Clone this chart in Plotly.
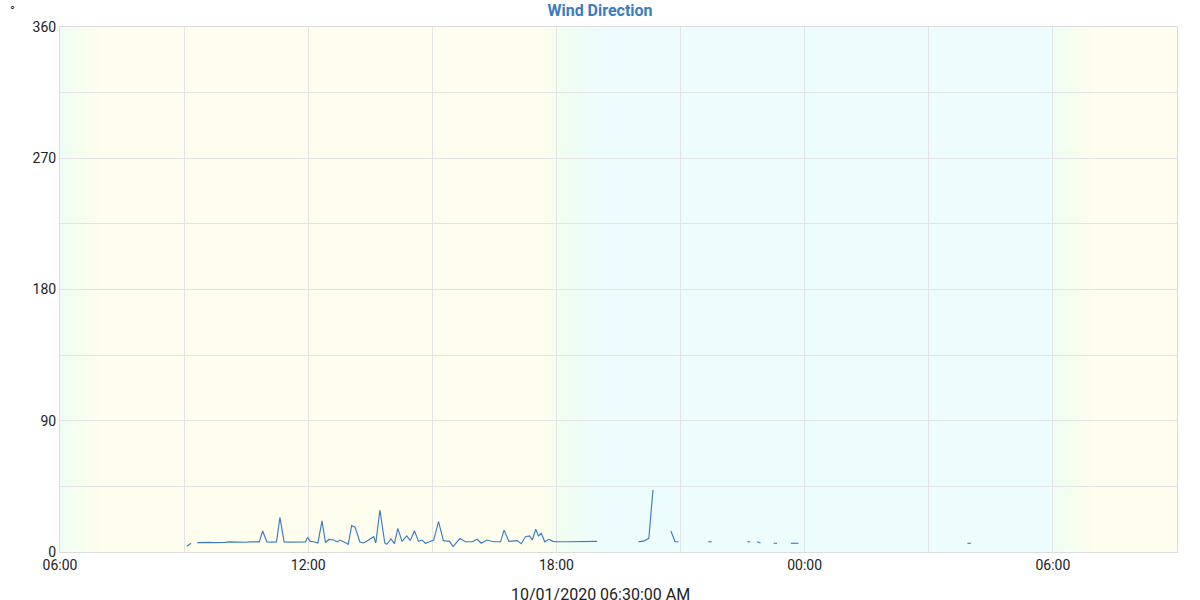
import plotly.graph_objects as go
import pandas as pd

# ---- data ----
times = [
    "2020-10-01 09:04", "2020-10-01 09:10", "2020-10-01 09:14",
    "2020-10-01 09:19", "2020-10-01 09:25", "2020-10-01 09:30", "2020-10-01 09:36",
    "2020-10-01 09:42", "2020-10-01 09:48", "2020-10-01 09:53", "2020-10-01 09:59",
    "2020-10-01 10:05", "2020-10-01 10:11", "2020-10-01 10:17", "2020-10-01 10:23",
    "2020-10-01 10:29", "2020-10-01 10:35", "2020-10-01 10:42", "2020-10-01 10:49",
    "2020-10-01 10:54", "2020-10-01 11:00", "2020-10-01 11:07", "2020-10-01 11:14",
    "2020-10-01 11:19", "2020-10-01 11:25", "2020-10-01 11:31", "2020-10-01 11:38",
    "2020-10-01 11:44", "2020-10-01 11:50", "2020-10-01 11:56", "2020-10-01 11:59",
    "2020-10-01 12:03", "2020-10-01 12:08", "2020-10-01 12:14", "2020-10-01 12:20",
    "2020-10-01 12:25", "2020-10-01 12:30", "2020-10-01 12:37", "2020-10-01 12:42",
    "2020-10-01 12:46", "2020-10-01 12:54", "2020-10-01 12:58", "2020-10-01 13:03",
    "2020-10-01 13:08", "2020-10-01 13:15", "2020-10-01 13:20", "2020-10-01 13:27",
    "2020-10-01 13:35", "2020-10-01 13:38", "2020-10-01 13:44", "2020-10-01 13:51",
    "2020-10-01 13:54", "2020-10-01 14:00", "2020-10-01 14:05", "2020-10-01 14:10",
    "2020-10-01 14:16", "2020-10-01 14:23", "2020-10-01 14:28", "2020-10-01 14:34",
    "2020-10-01 14:40", "2020-10-01 14:45", "2020-10-01 14:50", "2020-10-01 14:56",
    "2020-10-01 15:02", "2020-10-01 15:09", "2020-10-01 15:16", "2020-10-01 15:25",
    "2020-10-01 15:30", "2020-10-01 15:40", "2020-10-01 15:48", "2020-10-01 15:58",
    "2020-10-01 16:05", "2020-10-01 16:11", "2020-10-01 16:19", "2020-10-01 16:29",
    "2020-10-01 16:39", "2020-10-01 16:44", "2020-10-01 16:51", "2020-10-01 17:03",
    "2020-10-01 17:09", "2020-10-01 17:15", "2020-10-01 17:21", "2020-10-01 17:25",
    "2020-10-01 17:30", "2020-10-01 17:34", "2020-10-01 17:38", "2020-10-01 17:43",
    "2020-10-01 17:49", "2020-10-01 17:55", "2020-10-01 18:01", "2020-10-01 18:15",
    "2020-10-01 18:30", "2020-10-01 18:45", "2020-10-01 18:59", "2020-10-01 19:05",
    "2020-10-01 19:59", "2020-10-01 20:07", "2020-10-01 20:14", "2020-10-01 20:20",
    "2020-10-01 20:30",
    "2020-10-01 20:46", "2020-10-01 20:52", "2020-10-01 20:57", "2020-10-01 21:05",
    "2020-10-01 21:40", "2020-10-01 21:45", "2020-10-01 21:50",
    "2020-10-01 22:37", "2020-10-01 22:41", "2020-10-01 22:45",
    "2020-10-01 22:51", "2020-10-01 22:56", "2020-10-01 23:00",
    "2020-10-01 23:15", "2020-10-01 23:20", "2020-10-01 23:30",
    "2020-10-01 23:40", "2020-10-01 23:45", "2020-10-01 23:51", "2020-10-01 23:55",
    "2020-10-02 03:56", "2020-10-02 04:01",
]
values = [
    4.0, 6.0, None,
    6.4, 6.6, 6.5, 6.6,
    6.4, 6.3, 6.5, 6.6,
    6.9, 6.8, 6.6, 6.5,
    6.7, 6.9, 6.9, 6.9,
    14.4, 6.9, 6.8, 6.9,
    23.8, 6.9, 6.8, 6.9,
    6.8, 6.8, 6.9, 10.0,
    7.3, 7.0, 6.2, 21.3,
    6.5, 8.6, 8.2, 6.9,
    8.2, 6.4, 5.3, 18.1,
    17.0, 6.9, 6.2, 8.0,
    10.5, 6.2, 28.8, 6.2,
    5.3, 9.0, 5.7, 16.2,
    7.3, 11.0, 7.8, 14.6,
    7.3, 8.2, 6.0, 7.0,
    8.2, 20.8, 7.8, 7.3,
    3.7, 9.2, 7.0, 7.0,
    8.7, 6.0, 8.2, 7.0,
    7.0, 15.0, 7.3, 7.8,
    5.7, 10.5, 11.0, 8.2,
    15.6, 11.0, 12.8, 7.0,
    8.7, 7.3, 7.0, 7.0,
    7.2, 7.3, 7.3, None,
    6.9, 7.6, 9.4, 42.5,
    None,
    14.4, 7.0, 7.0, None,
    7.0, 7.0, None,
    7.0, 7.0, None,
    7.0, 6.2, None,
    6.0, 6.0, None,
    6.0, 6.0, 6.0, None,
    6.0, 6.0,
]

x_range = ["2020-10-01 06:00", "2020-10-02 09:00"]
y_ticks = [0, 90, 180, 270, 360]

# day / twilight / night background bands: (start, twilight peak, end, from, to)
twilight_bands = [
    ("2020-10-01 06:00", "2020-10-01 06:12", "2020-10-01 07:00", "night", "day"),
    ("2020-10-01 17:40", "2020-10-01 18:05", "2020-10-01 19:00", "day", "night"),
    ("2020-10-02 05:58", "2020-10-02 06:12", "2020-10-02 07:00", "night", "day"),
]
night_span = ("2020-10-01 19:00", "2020-10-02 05:58")

COLORS = {"day": (255, 253, 238), "night": (237, 252, 253), "twi": (240, 255, 240)}


def mix(a, b, f):
    return tuple(round(a[i] + (b[i] - a[i]) * f) for i in range(3))


def rgb(c):
    return f"rgb({c[0]},{c[1]},{c[2]})"


shapes = []
shapes.append(dict(type="rect", xref="x", yref="paper", x0=night_span[0], x1=night_span[1],
                   y0=0, y1=1, fillcolor=rgb(COLORS["night"]), line_width=0, layer="below"))
N = 24
for s, p, e, c_from, c_to in twilight_bands:
    ts, tp, te = pd.Timestamp(s), pd.Timestamp(p), pd.Timestamp(e)
    for seg_a, seg_b, ca, cb in ((ts, tp, COLORS[c_from], COLORS["twi"]),
                                 (tp, te, COLORS["twi"], COLORS[c_to])):
        step = (seg_b - seg_a) / N
        for k in range(N):
            a = seg_a + step * k
            b = seg_a + step * (k + 1) + pd.Timedelta(seconds=20)
            col = mix(ca, cb, (k + 0.5) / N)
            shapes.append(dict(type="rect", xref="x", yref="paper", x0=a, x1=b, y0=0, y1=1,
                               fillcolor=rgb(col), line_width=0, layer="below"))

fig = go.Figure()
fig.add_trace(go.Scatter(
    x=pd.to_datetime(times), y=values, mode="lines",
    line=dict(color="#3b7dc0", width=1.15), connectgaps=False, showlegend=False,
))

W, H = 1200, 600
ML, MR, MT, MB = 60, 23, 27, 48
grid = "#e4e4e4"
fig.update_layout(
    width=W, height=H,
    margin=dict(l=ML, r=MR, t=MT, b=MB),
    paper_bgcolor="white",
    plot_bgcolor=rgb(COLORS["day"]),
    font=dict(family="Roboto, sans-serif", size=14, color="#222222"),
    title=dict(text="<b>Wind Direction</b>", x=0.5, xanchor="center",
               y=1 - 10 / H, yanchor="middle", yref="container",
               font=dict(size=16, color="#3b7bbf")),
    shapes=shapes,
    xaxis=dict(
        type="date", range=x_range, dtick=6 * 3600 * 1000, tick0="2020-10-01 06:00",
        tickformat="%H:%M", showgrid=True, gridcolor=grid, gridwidth=1,
        minor=dict(dtick=3 * 3600 * 1000, showgrid=True, gridcolor=grid, gridwidth=1),
        showline=True, linecolor="#dddddd", mirror=True, zeroline=False,
        tickfont=dict(size=14, color="#222222"), ticks="",
        layer="below traces",
    ),
    yaxis=dict(
        range=[0, 360], tickvals=y_ticks, showgrid=True, gridcolor=grid, gridwidth=1,
        minor=dict(dtick=45, showgrid=True, gridcolor=grid, gridwidth=1),
        showline=True, linecolor="#dddddd", mirror=True, zeroline=False,
        tickfont=dict(size=14, color="#222222"), ticks="",
        layer="below traces",
    ),
    annotations=[
        dict(text="10/01/2020 06:30:00 AM", xref="paper", yref="paper",
             x=(W / 2 - ML) / (W - ML - MR), y=0,
             xanchor="center", yanchor="top", yshift=-31, showarrow=False,
             font=dict(size=16, color="#222222")),
        dict(text="°", xref="paper", yref="paper", x=0, y=1, xanchor="center",
             yanchor="middle", xshift=-48, yshift=17, showarrow=False,
             font=dict(size=13, color="#222222")),
    ],
)

fig.write_html("out.html", config={"displayModeBar": False},
               post_script="document.body.style.margin='0';")
